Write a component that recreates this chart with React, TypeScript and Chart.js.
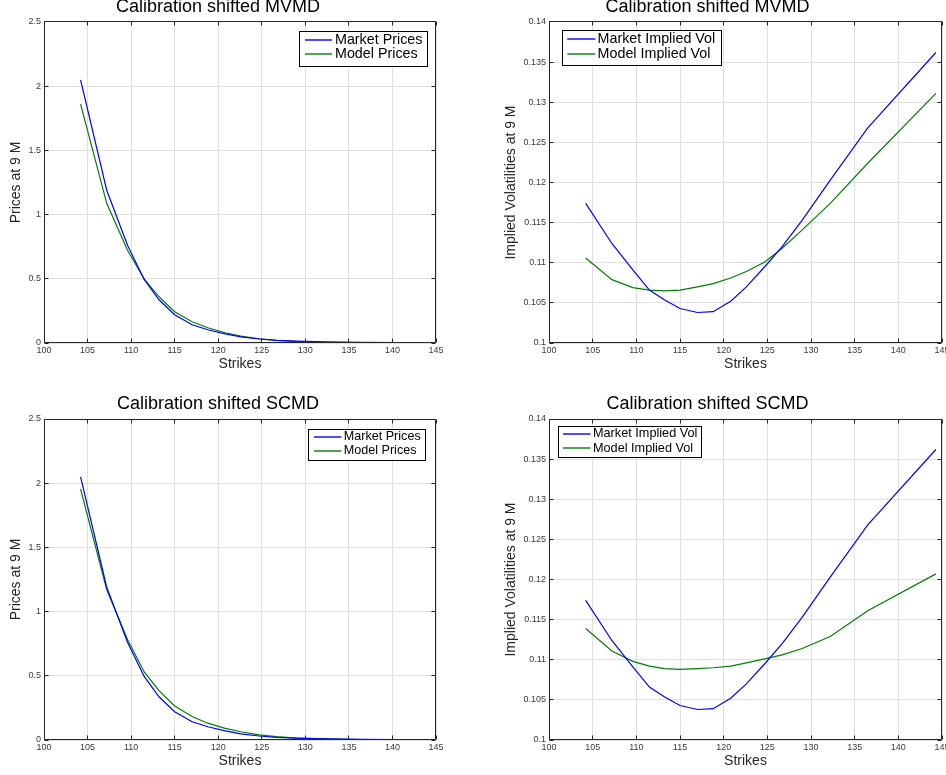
import React, { useEffect, useRef } from 'react';
import { Chart, registerables } from 'chart.js';

Chart.register(...registerables);

// ---------------- data ----------------
const strikes = [104.2, 107.2, 109.6, 111.5, 113.2, 115, 117, 118.8, 120.8, 122.6, 124.7, 126.7, 129, 132.2, 136.5, 144.3];

const marketPrices = [2.05, 1.19, 0.76, 0.495, 0.337, 0.22, 0.142, 0.103, 0.071, 0.048, 0.031, 0.021, 0.014, 0.009, 0.005, 0.002];
const mvmdModelPrices = [1.86, 1.088, 0.72, 0.5, 0.36, 0.244, 0.166, 0.119, 0.08, 0.053, 0.033, 0.02, 0.011, 0.005, 0.002, 0.0003];
const scmdModelPrices = [1.955, 1.17, 0.78, 0.53, 0.385, 0.265, 0.183, 0.131, 0.091, 0.064, 0.04, 0.026, 0.015, 0.008, 0.003, 0.0005];

const marketVol = [0.1174, 0.1124, 0.1091, 0.1066, 0.1054, 0.1043, 0.1038, 0.1039, 0.1052, 0.107, 0.1095, 0.112, 0.1153, 0.1203, 0.1268, 0.1362];
const mvmdModelVol = [0.1106, 0.1079, 0.1069, 0.1066, 0.1065, 0.1066, 0.107, 0.1074, 0.1081, 0.1089, 0.1101, 0.1118, 0.1141, 0.1174, 0.1224, 0.1311];
const scmdModelVol = [0.1139, 0.1111, 0.1098, 0.1092, 0.1089, 0.1088, 0.1089, 0.109, 0.1092, 0.1096, 0.1101, 0.1106, 0.1114, 0.1129, 0.1161, 0.1207];

const priceLabels = ['Market Prices', 'Model Prices'];
const volLabels = ['Market Implied Vol', 'Model Implied Vol'];
const titles = ['Calibration shifted MVMD', 'Calibration shifted SCMD'];
const xLabel = 'Strikes';
const priceAxisLabel = 'Prices at 9 M';
const volAxisLabel = 'Implied Volatilities at 9 M';

const FONT = "'Liberation Sans', Arial, Helvetica, sans-serif";
const BLUE = '#0000ff';
const GREEN = '#008000';

const toPoints = (ys: number[]) => strikes.map((x, i) => ({ x, y: ys[i] }));
const fmt = (v: any) => String(parseFloat(Number(v).toFixed(6)));

type Series = { label: string; data: number[]; color: string };

// frame, inward ticks and boxed legend
function makeFramePlugin(legend: any, series: Series[]) {
  return {
    id: 'frameLegend',
    afterDatasetsDraw(chart: any) {
      const { ctx, chartArea: a } = chart;
      const al = (p: number) => Math.round(p - 0.5) + 0.5;
      ctx.save();
      ctx.setLineDash([]);
      ctx.strokeStyle = '#262626';
      ctx.lineWidth = 1;
      const L = al(a.left), R = al(a.right - 1), T = al(a.top), B = al(a.bottom - 1);
      ctx.beginPath();
      ctx.rect(L, T, R - L, B - T);
      ctx.stroke();
      const tl = 4;
      const xs = chart.scales.x, ys = chart.scales.y;
      ctx.beginPath();
      xs.ticks.forEach((t: any) => {
        const p = al(xs.getPixelForValue(t.value));
        ctx.moveTo(p, B); ctx.lineTo(p, B - tl);
        ctx.moveTo(p, T); ctx.lineTo(p, T + tl);
      });
      ys.ticks.forEach((t: any) => {
        const p = al(ys.getPixelForValue(t.value));
        ctx.moveTo(L, p); ctx.lineTo(L + tl, p);
        ctx.moveTo(R, p); ctx.lineTo(R - tl, p);
      });
      ctx.stroke();

      const bx = Math.round(legend.anchor === 'right' ? a.right - legend.dx - legend.w : a.left + legend.dx);
      const by = Math.round(a.top + legend.dy);
      ctx.fillStyle = '#ffffff';
      ctx.fillRect(bx, by, legend.w, legend.h);
      ctx.strokeStyle = '#000000';
      ctx.lineWidth = 1;
      ctx.strokeRect(bx + 0.5, by + 0.5, legend.w, legend.h);
      ctx.font = `${legend.font}px ${FONT}`;
      ctx.textBaseline = 'middle';
      ctx.textAlign = 'left';
      series.forEach((s, i) => {
        const ry = by + legend.rows[i];
        ctx.strokeStyle = s.color;
        ctx.lineWidth = 1.4;
        ctx.beginPath();
        ctx.moveTo(bx + legend.lineX, Math.round(ry));
        ctx.lineTo(bx + legend.lineX + legend.lineLen, Math.round(ry));
        ctx.stroke();
        ctx.fillStyle = '#000000';
        ctx.fillText(s.label, bx + legend.textX, ry);
      });
      ctx.restore();
    },
  };
}

type PanelProps = {
  left: number; top: number; width: number; height: number;
  title: string; titlePad: { top: number; bottom: number };
  yLabel: string; yMin: number; yMax: number; yStep: number; yWidth: number; yTitlePad: number;
  padRight: number; padBottom: number;
  series: Series[];
  legend: any;
};

function Panel(p: PanelProps) {
  const ref = useRef<HTMLCanvasElement>(null);
  useEffect(() => {
    if (!ref.current) return;
    const tickFont = { family: FONT, size: 9 };
    const chart = new Chart(ref.current, {
      type: 'line',
      data: {
        datasets: p.series.map((s) => ({
          label: s.label,
          data: toPoints(s.data),
          borderColor: s.color,
          backgroundColor: s.color,
          borderWidth: 1.2,
          pointRadius: 0,
          fill: false,
          tension: 0,
        })),
      },
      options: {
        responsive: false,
        animation: false,
        events: [],
        layout: { padding: { left: 0, right: p.padRight, top: 0, bottom: p.padBottom } },
        plugins: {
          legend: { display: false },
          tooltip: { enabled: false },
          title: {
            display: true,
            text: p.title,
            color: '#000000',
            font: { family: FONT, size: 18, weight: 'normal' },
            padding: p.titlePad,
          },
        } as any,
        scales: {
          x: {
            type: 'linear',
            min: 100,
            max: 145,
            ticks: { stepSize: 5, padding: 2, color: '#3a3a3a', font: tickFont, maxRotation: 0, autoSkip: false, callback: fmt },
            grid: { color: '#e0e0e0', drawTicks: false, lineWidth: 1 },
            border: { display: false },
            title: { display: true, text: xLabel, color: '#262626', font: { family: FONT, size: 14 }, padding: { top: 0, bottom: 0 } },
            afterFit: (s: any) => { s.height = 30; s.paddingLeft = 0; s.paddingRight = 0; },
          },
          y: {
            type: 'linear',
            min: p.yMin,
            max: p.yMax,
            ticks: { stepSize: p.yStep, padding: 3, color: '#3a3a3a', font: tickFont, callback: fmt },
            grid: { color: '#e0e0e0', drawTicks: false, lineWidth: 1 },
            border: { display: false },
            title: { display: true, text: p.yLabel, color: '#262626', font: { family: FONT, size: 14 }, padding: { top: p.yTitlePad, bottom: 0 } },
            afterFit: (s: any) => { s.width = p.yWidth; s.paddingTop = 0; s.paddingBottom = 0; },
          },
        } as any,
      },
      plugins: [makeFramePlugin(p.legend, p.series) as any],
    });
    return () => chart.destroy();
  }, []);
  return (
    <canvas
      ref={ref}
      width={p.width}
      height={p.height}
      style={{ position: 'absolute', left: p.left, top: p.top, width: p.width, height: p.height }}
    />
  );
}

export default function App() {
  const topTitlePad = { top: -3.7, bottom: 4.1 };
  const botTitlePad = { top: 5.7, bottom: 3.7 };
  return (
    <div style={{ position: 'absolute', left: 0, top: 0, width: 946, height: 775, background: '#ffffff', overflow: 'hidden' }}>
      <Panel
        left={0} top={0} width={473} height={388}
        title={titles[0]} titlePad={topTitlePad}
        yLabel={priceAxisLabel} yMin={0} yMax={2.5} yStep={0.5} yWidth={44} yTitlePad={8}
        padRight={37} padBottom={15}
        series={[{ label: priceLabels[0], data: marketPrices, color: BLUE }, { label: priceLabels[1], data: mvmdModelPrices, color: GREEN }]}
        legend={{ anchor: 'right', dx: 9, dy: 9, w: 128, h: 35, font: 14.3, lineX: 6, lineLen: 27, textX: 36, rows: [9, 23.3] }}
      />
      <Panel
        left={473} top={0} width={473} height={388}
        title={titles[0]} titlePad={topTitlePad}
        yLabel={volAxisLabel} yMin={0.1} yMax={0.14} yStep={0.005} yWidth={76} yTitlePad={30}
        padRight={4} padBottom={15}
        series={[{ label: volLabels[0], data: marketVol, color: BLUE }, { label: volLabels[1], data: mvmdModelVol, color: GREEN }]}
        legend={{ anchor: 'left', dx: 12.7, dy: 8, w: 159, h: 35, font: 14.3, lineX: 5.3, lineLen: 28, textX: 35.6, rows: [9, 24] }}
      />
      <Panel
        left={0} top={388} width={473} height={387}
        title={titles[1]} titlePad={botTitlePad}
        yLabel={priceAxisLabel} yMin={0} yMax={2.5} yStep={0.5} yWidth={44} yTitlePad={8}
        padRight={37} padBottom={5}
        series={[{ label: priceLabels[0], data: marketPrices, color: BLUE }, { label: priceLabels[1], data: scmdModelPrices, color: GREEN }]}
        legend={{ anchor: 'right', dx: 11, dy: 10, w: 117, h: 31, font: 12.6, lineX: 6, lineLen: 27.4, textX: 35.7, rows: [7.7, 21.7] }}
      />
      <Panel
        left={473} top={388} width={473} height={387}
        title={titles[1]} titlePad={botTitlePad}
        yLabel={volAxisLabel} yMin={0.1} yMax={0.14} yStep={0.005} yWidth={76} yTitlePad={30}
        padRight={4} padBottom={5}
        series={[{ label: volLabels[0], data: marketVol, color: BLUE }, { label: volLabels[1], data: scmdModelVol, color: GREEN }]}
        legend={{ anchor: 'left', dx: 9.3, dy: 7, w: 143, h: 31, font: 12.7, lineX: 5, lineLen: 27.4, textX: 35, rows: [7.7, 22] }}
      />
    </div>
  );
}
